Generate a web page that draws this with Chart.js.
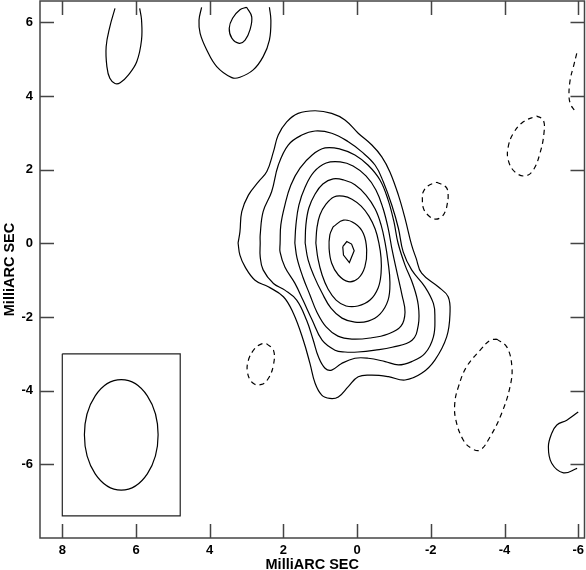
<!DOCTYPE html>
<html>
<head>
<meta charset="utf-8">
<script src="https://cdn.jsdelivr.net/npm/chart.js@4/dist/chart.umd.min.js"></script>
<style>
  html, body { margin: 0; padding: 0; background: #fff; }
</style>
</head>
<body>
<canvas id="map" width="586" height="570"></canvas>
<script>
// axis ranges in MilliARC SEC (x is reversed: east to the left)
const xRange = [-6.17, 8.605];
const yRange = [-8.0, 6.58];
const xTicks = [8, 6, 4, 2, 0, -2, -4, -6];
const yTicks = [6, 4, 2, 0, -2, -4, -6];

// positive contours, outermost first
const level1 = [[3.23,0.01],[3.18,0.31],[3.13,0.86],[2.95,1.31],[2.68,1.67],[2.45,1.95],[2.27,2.49],[2.14,2.94],[1.91,3.30],[1.60,3.53],[1.14,3.60],[0.69,3.53],[0.33,3.35],[-0.03,2.99],[-0.40,2.67],[-0.67,2.35],[-0.89,1.94],[-1.12,1.31],[-1.30,0.68],[-1.48,-0.05],[-1.60,-0.40],[-1.75,-0.81],[-2.20,-1.18],[-2.47,-1.45],[-2.52,-1.90],[-2.43,-2.54],[-2.11,-3.17],[-1.75,-3.53],[-1.30,-3.71],[-0.85,-3.62],[-0.40,-3.58],[-0.03,-3.62],[0.24,-3.89],[0.51,-4.17],[0.74,-4.21],[0.96,-4.12],[1.14,-3.80],[1.28,-3.26],[1.46,-2.63],[1.73,-1.90],[2.00,-1.45],[2.41,-1.18],[2.77,-1.00],[3.04,-0.64],[3.18,-0.32]];
const level2 = [[2.63,0.01],[2.63,0.23],[2.55,0.86],[2.32,1.40],[2.14,2.12],[1.87,2.67],[1.50,2.94],[1.14,3.05],[0.69,2.99],[0.24,2.76],[-0.12,2.49],[-0.49,2.12],[-0.71,1.67],[-0.94,1.04],[-1.12,0.41],[-1.25,-0.23],[-1.48,-0.72],[-1.84,-1.18],[-2.07,-1.63],[-2.11,-1.99],[-2.07,-2.54],[-1.84,-2.99],[-1.48,-3.21],[-1.12,-3.30],[-0.76,-3.21],[-0.30,-3.12],[0.06,-3.12],[0.42,-3.26],[0.69,-3.44],[0.87,-3.39],[1.05,-3.08],[1.19,-2.63],[1.37,-2.09],[1.64,-1.54],[1.96,-1.27],[2.27,-1.09],[2.55,-0.72],[2.63,-0.36]];
const level3 = [[2.09,0.01],[2.07,0.50],[1.96,1.04],[1.80,1.58],[1.55,2.04],[1.22,2.40],[0.87,2.59],[0.46,2.56],[0.06,2.40],[-0.30,2.12],[-0.62,1.72],[-0.84,1.18],[-1.00,0.58],[-1.11,0.01],[-1.30,-0.59],[-1.52,-1.13],[-1.66,-1.68],[-1.66,-2.22],[-1.49,-2.63],[-0.95,-2.82],[-0.49,-2.90],[-0.02,-2.95],[0.33,-2.95],[0.60,-2.90],[0.95,-2.63],[1.22,-2.08],[1.47,-1.54],[1.69,-1.08],[1.96,-0.64],[2.09,-0.24]];
const level4 = [[1.69,0.01],[1.66,0.50],[1.58,1.04],[1.41,1.53],[1.17,1.94],[0.84,2.18],[0.46,2.21],[0.11,2.10],[-0.24,1.83],[-0.51,1.45],[-0.70,0.96],[-0.84,0.42],[-0.95,-0.18],[-1.08,-0.78],[-1.22,-1.41],[-1.30,-1.87],[-1.19,-2.25],[-0.84,-2.46],[-0.35,-2.57],[0.14,-2.60],[0.52,-2.52],[0.84,-2.27],[1.09,-1.87],[1.28,-1.40],[1.47,-0.92],[1.63,-0.40]];
const level5 = [[1.41,0.01],[1.39,0.50],[1.31,0.96],[1.14,1.34],[0.93,1.61],[0.65,1.75],[0.36,1.72],[0.06,1.59],[-0.24,1.31],[-0.49,0.93],[-0.65,0.50],[-0.76,0.01],[-0.84,-0.51],[-0.89,-1.05],[-0.84,-1.54],[-0.62,-1.92],[-0.30,-2.11],[0.06,-2.14],[0.41,-2.03],[0.71,-1.76],[0.95,-1.35],[1.17,-0.89],[1.33,-0.45]];
const level6 = [[1.12,0.01],[1.09,0.42],[1.01,0.77],[0.84,1.07],[0.63,1.26],[0.38,1.28],[0.14,1.20],[-0.11,1.01],[-0.32,0.74],[-0.49,0.39],[-0.59,0.01],[-0.65,-0.40],[-0.65,-0.81],[-0.57,-1.21],[-0.35,-1.54],[-0.02,-1.70],[0.30,-1.70],[0.57,-1.54],[0.79,-1.24],[0.95,-0.86],[1.06,-0.43]];
const level7 = [[0.65,0.45],[0.37,0.63],[0.06,0.54],[-0.17,0.27],[-0.26,-0.18],[-0.21,-0.64],[-0.03,-0.95],[0.24,-1.04],[0.51,-0.86],[0.69,-0.54],[0.76,-0.14],[0.74,0.23]];
const level8 = [[0.39,-0.09],[0.28,0.05],[0.15,-0.02],[0.08,-0.20],[0.21,-0.52],[0.37,-0.32]];

// outlying positive pieces
const northWestArc = [[6.57,6.38],[6.71,5.88],[6.81,5.34],[6.79,4.80],[6.71,4.48],[6.57,4.34],[6.43,4.36],[6.21,4.57],[5.98,4.93],[5.85,5.52],[5.85,6.07],[5.90,6.38]];
const northArc = [[4.22,6.41],[4.29,6.06],[4.26,5.70],[4.08,5.25],[3.81,4.80],[3.40,4.50],[3.18,4.51],[2.82,4.71],[2.55,5.07],[2.38,5.52],[2.34,6.06],[2.38,6.41]];
const northPeak = [[3.00,6.41],[2.86,6.15],[2.91,5.79],[3.04,5.52],[3.20,5.43],[3.40,5.57],[3.47,5.84],[3.38,6.11],[3.18,6.34]];
const southEastArc = [[-6.00,-4.58],[-5.69,-4.80],[-5.42,-4.93],[-5.28,-5.16],[-5.19,-5.52],[-5.28,-5.97],[-5.60,-6.23],[-5.97,-6.11]];

// negative contours (dashed)
const negA = [[-2.16,1.66],[-2.41,1.53],[-2.47,1.31],[-2.44,1.04],[-2.39,0.86],[-2.28,0.71],[-2.11,0.66],[-1.92,0.77],[-1.80,0.95],[-1.77,1.23],[-1.79,1.39],[-1.92,1.56]];
const negB = [[-4.87,3.46],[-5.05,3.35],[-5.07,2.99],[-4.96,2.44],[-4.78,1.99],[-4.56,1.83],[-4.28,1.94],[-4.10,2.26],[-4.10,2.62],[-4.24,2.99],[-4.51,3.30]];
const negC = [[-5.96,5.16],[-5.87,4.80],[-5.78,4.43],[-5.75,3.98],[-5.80,3.76],[-5.89,3.62]];
const negD = [[2.45,-2.73],[2.27,-2.90],[2.27,-3.30],[2.41,-3.67],[2.59,-3.83],[2.82,-3.80],[2.97,-3.53],[2.95,-3.17],[2.77,-2.85],[2.59,-2.73]];
const negE = [[-3.79,-2.60],[-4.06,-2.81],[-4.20,-3.35],[-4.15,-3.89],[-3.92,-4.62],[-3.61,-5.25],[-3.34,-5.61],[-3.11,-5.57],[-2.88,-5.34],[-2.68,-4.80],[-2.65,-4.34],[-2.75,-3.89],[-2.97,-3.35],[-3.34,-2.90],[-3.61,-2.63]];

// restoring beam
const beamBoxX = [8.0, 4.8];
const beamBoxY = [-3.0, -7.4];
const beamCenter = [6.4, -5.2];
const beamWidth = [2.0, 3.0]; // full width in x, full height in y

const FONT = '"Liberation Sans", Arial, Helvetica, sans-serif';

function toXY(pts) {
    return pts.map(p => ({ x: p[0], y: p[1] }));
}

function closed(pts) {
    return pts.concat([pts[0]]);
}

function contour(pts, opts) {
    return Object.assign({
        data: toXY(pts),
        showLine: true,
        pointRadius: 0,
        borderColor: '#000',
        borderWidth: 1.2,
        tension: 0.4,
        fill: false
    }, opts || {});
}

const dashed = { borderDash: [5, 4] };

const datasets = [
    contour(closed(level1)),
    contour(closed(level2)),
    contour(closed(level3)),
    contour(closed(level4)),
    contour(closed(level5)),
    contour(closed(level6)),
    contour(closed(level7)),
    contour(closed(level8), { tension: 0 }),
    contour(northWestArc),
    contour(northArc),
    contour(closed(northPeak)),
    contour(southEastArc),
    contour(closed(negA), dashed),
    contour(closed(negB), dashed),
    contour(negC, dashed),
    contour(closed(negD), dashed),
    contour(closed(negE), dashed),
    contour([[beamBoxX[0], beamBoxY[0]], [beamBoxX[1], beamBoxY[0]], [beamBoxX[1], beamBoxY[1]],
             [beamBoxX[0], beamBoxY[1]], [beamBoxX[0], beamBoxY[0]]], { tension: 0, borderColor: '#222' })
];

// frame, inward ticks and beam ellipse
const framePlugin = {
    id: 'frame',
    afterDatasetsDraw(chart) {
        const ctx = chart.ctx;
        const area = chart.chartArea;
        const xs = chart.scales.x;
        const ys = chart.scales.y;
        const tick = 14;

        ctx.save();
        // beam
        const cx = xs.getPixelForValue(beamCenter[0]);
        const cy = ys.getPixelForValue(beamCenter[1]);
        const rx = Math.abs(xs.getPixelForValue(beamCenter[0] + beamWidth[0] / 2) - cx);
        const ry = Math.abs(ys.getPixelForValue(beamCenter[1] + beamWidth[1] / 2) - cy);
        ctx.strokeStyle = '#000';
        ctx.lineWidth = 1.2;
        ctx.beginPath();
        ctx.ellipse(cx, cy, rx, ry, 0, 0, Math.PI * 2);
        ctx.stroke();

        ctx.strokeStyle = '#444';
        ctx.lineWidth = 1.5;
        ctx.strokeRect(area.left, area.top, area.right - area.left, area.bottom - area.top);

        ctx.beginPath();
        xTicks.forEach(v => {
            const px = Math.round(xs.getPixelForValue(v)) + 0.5;
            ctx.moveTo(px, area.bottom);
            ctx.lineTo(px, area.bottom - tick);
            ctx.moveTo(px, area.top);
            ctx.lineTo(px, area.top + tick);
        });
        yTicks.forEach(v => {
            const py = Math.round(ys.getPixelForValue(v)) + 0.5;
            ctx.moveTo(area.left, py);
            ctx.lineTo(area.left + tick, py);
            ctx.moveTo(area.right, py);
            ctx.lineTo(area.right - tick, py);
        });
        ctx.stroke();
        ctx.restore();
    }
};

new Chart(document.getElementById('map'), {
    type: 'scatter',
    data: { datasets: datasets },
    options: {
        responsive: false,
        animation: false,
        layout: { padding: { top: 1, right: 1.5, bottom: 0, left: 0 } },
        plugins: {
            legend: { display: false },
            tooltip: { enabled: false }
        },
        scales: {
            x: {
                type: 'linear',
                reverse: true,
                min: xRange[0],
                max: xRange[1],
                afterFit: s => {
                    s.height = 32;
                    s.paddingLeft = 0;
                    s.paddingRight = 0;
                },
                afterBuildTicks: s => { s.ticks = xTicks.map(v => ({ value: v })); },
                grid: { display: false, drawTicks: false },
                border: { display: false },
                ticks: {
                    color: '#000',
                    padding: 5,
                    maxRotation: 0,
                    autoSkip: false,
                    font: { family: FONT, size: 13, weight: 'bold' }
                },
                title: {
                    display: true,
                    text: 'MilliARC SEC',
                    color: '#000',
                    padding: { top: 0, bottom: -2 },
                    font: { family: FONT, size: 14.5, weight: 'bold', lineHeight: 1 }
                }
            },
            y: {
                type: 'linear',
                min: yRange[0],
                max: yRange[1],
                afterFit: s => {
                    s.width = 40;
                    s.paddingTop = 0;
                    s.paddingBottom = 0;
                },
                afterBuildTicks: s => { s.ticks = yTicks.map(v => ({ value: v })); },
                grid: { display: false, drawTicks: false },
                border: { display: false },
                ticks: {
                    color: '#000',
                    padding: 7,
                    autoSkip: false,
                    font: { family: FONT, size: 13, weight: 'bold' }
                },
                title: {
                    display: true,
                    text: 'MilliARC SEC',
                    color: '#000',
                    padding: { top: 3, bottom: 0 },
                    font: { family: FONT, size: 14.5, weight: 'bold', lineHeight: 1 }
                }
            }
        }
    },
    plugins: [framePlugin]
});
</script>
</body>
</html>
